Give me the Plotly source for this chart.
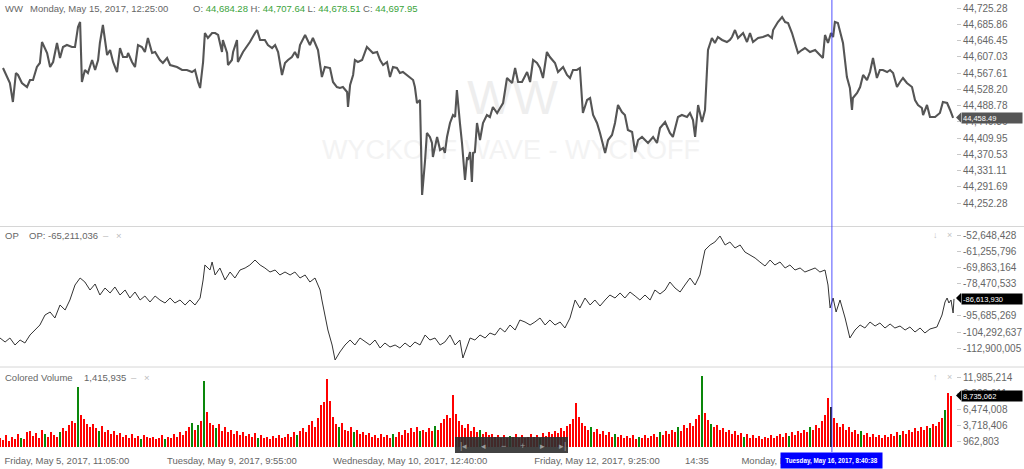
import plotly.graph_objects as go

FONT = "Arial, 'Liberation Sans', Helvetica, sans-serif"
W, H = 1024, 469
PLOT_W, PLOT_H = 956, 447          # plotting area in px (right axis outside)
PX_PER_BAR = 3.0

# ---------------- data ----------------
# price line (bar time index, price)
price_t = [
    1.0, 2.3, 3.3, 4.3, 5.3, 6.0, 7.3, 9.0, 10.0, 11.0,
    12.3, 13.3, 14.0, 15.7, 16.7, 17.7, 19.0, 20.0, 21.0, 22.3,
    24.0, 25.0, 26.0, 26.7, 27.3, 28.3, 29.3, 30.7, 31.7, 32.7,
    33.3, 34.3, 35.7, 36.7, 37.7, 39.0, 40.0, 41.0, 42.3, 42.7,
    44.0, 45.0, 46.0, 47.3, 48.3, 49.3, 50.7, 51.7, 53.3, 54.3,
    55.7, 56.7, 59.0, 60.7, 62.3, 64.0, 65.0, 66.0, 66.7, 67.7,
    68.3, 69.3, 70.7, 71.7, 72.7, 74.0, 74.3, 75.7, 76.0, 77.3,
    77.7, 79.0, 79.3, 81.0, 82.3, 83.3, 85.0, 85.7, 86.7, 88.3,
    89.3, 90.7, 91.7, 92.7, 94.0, 95.0, 96.0, 97.3, 98.3, 99.3,
    100.0, 101.7, 103.3, 104.3, 106.0, 107.3, 108.3, 110.0, 111.0, 112.3,
    113.3, 114.3, 115.7, 116.0, 116.7, 117.7, 118.3, 119.3, 120.7, 121.7,
    122.3, 123.3, 124.3, 125.7, 126.7, 127.7, 129.0, 130.0, 131.0, 132.3,
    133.3, 134.3, 135.7, 136.7, 137.7, 138.3, 139.0, 140.0, 140.7, 141.7,
    142.3, 143.3, 144.0, 144.3, 145.7, 146.7, 147.7, 148.3, 149.0, 150.0,
    151.0, 151.7, 152.3, 153.3, 154.0, 155.0, 155.7, 156.0, 156.7, 157.3,
    157.7, 158.3, 159.0, 160.0, 161.0, 162.3, 163.3, 164.3, 165.7, 166.7,
    167.7, 169.0, 170.7, 171.7, 172.7, 174.0, 175.7, 176.7, 177.7, 179.0,
    180.0, 181.0, 182.3, 183.3, 185.0, 186.0, 187.7, 189.0, 190.0, 191.0,
    192.3, 193.3, 194.0, 194.3, 195.7, 196.7, 197.7, 199.0, 200.0, 201.0,
    201.7, 202.7, 204.0, 205.0, 206.0, 207.3, 208.3, 209.3, 210.7, 211.7,
    212.7, 214.0, 215.0, 216.0, 217.7, 219.0, 220.0, 221.7, 223.3, 224.3,
    226.0, 227.3, 229.0, 230.0, 231.0, 231.7, 232.7, 234.0, 235.0, 235.7,
    236.0, 237.3, 238.3, 239.3, 240.7, 242.3, 243.3, 244.0, 245.0, 246.0,
    247.7, 249.0, 250.0, 251.0, 252.7, 254.3, 256.0, 257.3, 257.7, 259.3,
    260.7, 261.7, 262.7, 264.0, 265.0, 266.0, 267.3, 268.3, 270.0, 271.7,
    273.3, 274.3, 275.0, 276.0, 277.0, 277.7, 278.3, 279.3, 281.0, 282.3,
    283.3, 284.0, 284.3, 285.7, 286.7, 287.7, 289.0, 290.0, 291.0, 292.3,
    293.3, 294.3, 295.7, 296.7, 297.7, 299.0, 300.0, 301.0, 302.3, 304.0,
    305.0, 306.0, 307.3, 307.7, 309.0, 310.0, 311.7, 313.3, 314.3, 315.7,
    316.7, 317.7,
]
price = [
    44579.7, 44557.9, 44543.4, 44497.3, 44567.6, 44562.8, 44543.4, 44533.6, 44550.6, 44550.6,
    44582.2, 44591.9, 44642.8, 44616.1, 44582.2, 44594.3, 44640.4, 44604.0, 44630.7, 44635.5,
    44630.7, 44630.7, 44679.2, 44691.3, 44545.8, 44574.9, 44567.6, 44599.1, 44574.9, 44599.1,
    44640.4, 44684.0, 44611.3, 44623.4, 44594.3, 44570.0, 44628.2, 44606.4, 44606.4, 44616.1,
    44594.3, 44582.2, 44635.5, 44630.7, 44618.5, 44652.5, 44616.1, 44618.5, 44599.1, 44591.9,
    44604.0, 44587.0, 44582.2, 44574.9, 44574.9, 44570.0, 44574.9, 44545.8, 44531.2, 44594.3,
    44664.6, 44652.5, 44664.6, 44664.6, 44659.8, 44618.5, 44647.7, 44616.1, 44587.0, 44599.1,
    44618.5, 44647.7, 44594.3, 44618.5, 44630.7, 44642.8, 44664.6, 44671.9, 44647.7, 44647.7,
    44635.5, 44628.2, 44635.5, 44618.5, 44562.8, 44591.9, 44599.1, 44606.4, 44618.5, 44604.0,
    44635.5, 44659.8, 44635.5, 44652.5, 44623.4, 44557.9, 44582.2, 44579.7, 44545.8, 44533.6,
    44531.2, 44533.6, 44521.5, 44485.1, 44538.5, 44562.8, 44599.1, 44594.3, 44599.1, 44616.1,
    44630.7, 44623.4, 44616.1, 44618.5, 44599.1, 44587.0, 44594.3, 44557.9, 44582.2, 44579.7,
    44567.6, 44570.0, 44562.8, 44557.9, 44550.6, 44533.6, 44494.8, 44502.1, 44271.7, 44356.6,
    44422.1, 44412.4, 44397.8, 44363.9, 44412.4, 44380.9, 44385.7, 44373.6, 44412.4, 44446.4,
    44465.7, 44460.9, 44526.4, 44446.4, 44397.8, 44308.1, 44363.9, 44356.6, 44376.0, 44303.2,
    44373.6, 44376.0, 44446.4, 44405.1, 44446.4, 44465.7, 44460.9, 44485.1, 44470.6, 44482.7,
    44494.8, 44555.5, 44543.4, 44579.7, 44545.8, 44545.8, 44570.0, 44545.8, 44599.1, 44591.9,
    44579.7, 44555.5, 44618.5, 44606.4, 44591.9, 44570.0, 44582.2, 44562.8, 44555.5, 44574.9,
    44574.9, 44579.7, 44502.1, 44470.6, 44502.1, 44507.0, 44465.7, 44446.4, 44422.1, 44393.0,
    44373.6, 44405.1, 44417.2, 44446.4, 44490.0, 44473.0, 44465.7, 44429.4, 44424.5, 44376.0,
    44405.1, 44412.4, 44405.1, 44397.8, 44412.4, 44397.8, 44434.2, 44448.8, 44422.1, 44412.4,
    44460.9, 44465.7, 44460.9, 44470.6, 44453.6, 44412.4, 44490.0, 44448.8, 44477.9, 44579.7,
    44623.4, 44652.5, 44640.4, 44654.9, 44647.7, 44642.8, 44647.7, 44654.9, 44671.9, 44652.5,
    44664.6, 44642.8, 44664.6, 44642.8, 44652.5, 44654.9, 44659.8, 44652.5, 44671.9, 44691.3,
    44703.4, 44691.3, 44688.9, 44664.6, 44642.8, 44616.1, 44623.4, 44628.2, 44618.5, 44623.4,
    44611.3, 44604.0, 44659.8, 44640.4, 44664.6, 44654.9, 44691.3, 44688.9, 44640.4, 44557.9,
    44531.2, 44477.9, 44507.0, 44519.1, 44533.6, 44562.8, 44550.6, 44570.0, 44604.0, 44555.5,
    44574.9, 44574.9, 44570.0, 44574.9, 44567.6, 44533.6, 44545.8, 44555.5, 44543.4, 44533.6,
    44502.1, 44490.0, 44482.7, 44465.7, 44490.0, 44460.9, 44460.9, 44470.6, 44497.3, 44494.8,
    44477.9, 44458.5,
]

# OP indicator (bar time index, value in millions)
op_t = [
    0.0, 1.7, 3.3, 5.0, 6.7, 8.3, 10.0, 11.7, 13.3, 15.0,
    16.7, 18.3, 20.0, 21.7, 23.3, 25.0, 26.7, 28.3, 30.0, 31.7,
    33.3, 35.0, 36.7, 38.3, 40.0, 41.7, 43.3, 45.0, 46.7, 48.3,
    50.0, 51.7, 53.3, 55.0, 56.7, 58.3, 60.0, 61.7, 63.3, 65.0,
    66.7, 67.7, 68.3, 70.0, 70.7, 71.7, 73.3, 75.0, 76.7, 78.3,
    80.0, 81.7, 83.3, 85.0, 86.7, 88.3, 90.0, 91.7, 93.3, 95.0,
    96.7, 98.3, 100.0, 101.7, 103.3, 105.0, 106.7, 107.3, 108.3, 109.3,
    110.7, 111.7, 113.3, 115.0, 116.7, 118.3, 120.0, 121.7, 123.3, 125.0,
    126.7, 128.3, 130.0, 131.7, 133.3, 135.0, 136.7, 138.3, 140.0, 141.7,
    143.3, 145.0, 146.7, 148.3, 150.0, 151.7, 153.3, 154.3, 155.7, 156.7,
    158.3, 160.0, 161.7, 163.3, 165.0, 166.7, 168.3, 170.0, 171.7, 173.3,
    175.0, 176.7, 178.3, 180.0, 181.7, 183.3, 185.0, 186.7, 188.3, 190.0,
    191.7, 193.3, 195.0, 196.7, 198.3, 200.0, 201.7, 203.3, 205.0, 206.7,
    208.3, 210.0, 211.7, 213.3, 215.0, 216.7, 218.3, 220.0, 221.7, 223.3,
    225.0, 226.7, 228.3, 230.0, 231.7, 233.3, 234.3, 235.0, 236.7, 238.3,
    240.0, 241.7, 243.3, 245.0, 246.7, 248.3, 250.0, 251.7, 253.3, 255.0,
    256.7, 258.3, 260.0, 261.7, 263.3, 265.0, 266.7, 268.3, 270.0, 271.7,
    273.3, 275.0, 276.0, 276.7, 277.7, 278.7, 280.0, 281.7, 283.3, 285.0,
    286.7, 288.3, 290.0, 291.7, 293.3, 295.0, 296.7, 298.3, 300.0, 301.7,
    303.3, 305.0, 306.7, 308.3, 310.0, 312.3, 314.0, 315.0, 315.7, 316.3,
    317.0, 317.7, 318.0,
]
op_m = [
    -107.41, -109.54, -107.41, -111.13, -108.47, -110.07, -105.81, -103.16, -100.50, -95.18,
    -93.59, -96.78, -89.86, -92.52, -87.20, -79.23, -75.51, -77.64, -81.89, -78.70,
    -84.55, -80.83, -83.48, -80.29, -84.55, -81.89, -86.14, -82.95, -87.20, -85.08,
    -88.27, -85.08, -87.20, -88.80, -86.14, -88.80, -87.20, -89.86, -87.20, -89.86,
    -86.14, -76.57, -68.60, -71.26, -67.00, -73.91, -70.19, -76.57, -72.32, -75.51,
    -71.26, -70.19, -68.60, -65.94, -68.60, -70.19, -72.32, -71.26, -73.91, -72.32,
    -73.91, -72.32, -75.51, -73.91, -77.64, -75.51, -81.89, -87.20, -95.18, -103.16,
    -111.13, -119.11, -114.85, -111.13, -108.47, -111.13, -107.41, -109.54, -111.13, -108.47,
    -112.73, -110.07, -112.19, -111.13, -112.73, -110.07, -112.19, -109.54, -111.13, -105.81,
    -108.47, -107.41, -111.13, -109.54, -105.81, -111.13, -108.47, -118.04, -111.13, -107.41,
    -108.47, -105.81, -107.41, -104.75, -105.81, -102.09, -104.22, -100.50, -103.16, -97.84,
    -98.90, -100.50, -98.90, -96.78, -100.50, -97.84, -100.50, -98.90, -102.09, -96.78,
    -87.20, -91.46, -86.14, -89.86, -87.20, -90.40, -87.20, -84.55, -86.14, -83.48,
    -86.14, -82.95, -85.08, -87.20, -84.55, -87.20, -81.89, -84.02, -81.89, -77.64,
    -80.83, -82.95, -79.23, -75.51, -79.23, -73.91, -65.94, -60.62, -57.96, -56.37,
    -53.18, -57.96, -56.37, -59.56, -57.96, -61.69, -63.28, -64.88, -67.00, -69.13,
    -65.94, -68.60, -67.00, -70.19, -68.60, -71.26, -70.19, -72.32, -71.26, -70.19,
    -72.32, -71.26, -79.23, -91.46, -86.14, -93.59, -87.20, -96.78, -107.41, -103.16,
    -100.50, -102.09, -98.90, -101.03, -99.44, -102.09, -99.97, -102.09, -101.03, -103.16,
    -101.56, -104.22, -102.09, -104.75, -102.62, -101.56, -95.18, -88.27, -86.14, -88.80,
    -87.20, -94.12, -86.61,
]

# Colored volume, one value per bar (millions)
vol_m = (
    [1.5, 1.2, 2.0, 1.0, 1.8, 1.4, 2.2, 1.6, 1.3, 2.5]
    + [2.8, 1.9, 2.4, 1.5, 3.0, 2.2, 1.7, 2.6, 2.0, 1.8]
    + [2.5, 3.2, 2.8, 3.8, 4.5]
    + [4.2, 10.3, 5.5, 4.8, 3.9]
    + [3.5, 4.0, 3.2, 2.8, 3.6, 2.5, 3.0, 2.2, 2.7, 2.0]
    + [2.4, 1.8, 2.1, 1.6, 2.3, 1.5, 1.9, 1.4, 2.0, 1.7]
    + [1.5, 1.8, 1.3, 1.6, 2.0, 1.4, 1.7, 1.5, 2.2, 1.8]
    + [2.5, 2.0, 2.8, 3.5, 4.2, 3.0, 3.8]
    + [4.5, 11.4, 6.0, 4.2]
    + [3.8, 3.2, 4.0, 2.8, 3.5, 2.6, 3.0, 2.3, 2.8, 2.0]
    + [2.5, 1.9, 2.2, 1.7, 2.4, 1.6, 2.0, 1.5, 1.8, 1.4]
    + [1.9, 1.6, 2.1, 1.5, 1.8, 2.2, 1.7, 2.5, 2.0, 2.8]
    + [3.2, 2.6, 3.8, 4.5, 3.5, 5.0]
    + [7.2, 7.8, 11.7, 8.0, 5.2]
    + [4.0, 3.5, 4.2, 3.0, 2.8, 3.4, 2.5, 2.9, 2.2, 2.6]
    + [2.0, 2.4, 1.8, 2.1, 1.6, 2.3, 1.7, 2.0, 1.5, 2.2]
    + [1.8, 2.5, 2.0, 3.0, 2.4, 3.2, 2.6, 3.5, 2.8, 3.0]
    + [2.5, 3.2, 2.7, 3.6, 3.0, 4.2, 4.8]
    + [5.5, 5.0, 9.0, 5.6, 4.5]
    + [3.8, 3.2, 4.0, 2.8, 3.4, 2.5, 3.0, 2.2, 2.6, 2.0]
    + [2.3, 1.8, 2.1, 1.6, 2.0, 1.5, 1.9, 1.7, 2.2, 1.6]
    + [2.0, 1.5, 1.8, 2.3, 1.7, 2.1, 1.6, 2.4, 1.9, 2.6]
    + [2.2, 2.8, 2.4, 3.2, 2.7, 3.6, 4.0]
    + [4.8, 7.5, 5.2, 4.2]
    + [3.6, 3.0, 3.4, 2.6, 3.1, 2.3, 2.8, 2.0, 2.5, 1.8]
    + [2.2, 1.7, 2.0, 1.5, 1.9, 1.6, 2.1, 1.4, 1.8, 1.5]
    + [2.0, 1.6, 1.9, 2.3, 1.7, 2.5, 2.0, 2.8, 2.3, 3.0]
    + [2.6, 3.4, 2.8, 3.8, 3.2, 4.2, 3.6, 4.8]
    + [5.5, 12.2, 5.8, 4.6]
    + [4.0, 3.4, 3.8, 2.9, 3.3, 2.6, 3.0, 2.2, 2.7, 2.0]
    + [2.4, 1.8, 2.2, 1.6, 2.0, 1.5, 1.9, 1.4, 1.8, 1.6]
    + [2.1, 1.5, 1.9, 2.2, 1.7, 2.4, 1.9, 2.6, 2.1, 2.8]
    + [2.4, 3.0, 2.6, 3.4, 3.0, 3.8, 3.3, 4.5]
    + [5.5, 8.4, 6.9, 5.0]
    + [4.2, 3.5, 3.9, 3.0, 3.4, 2.6, 3.0, 2.3, 2.7, 2.0]
    + [2.4, 1.8, 2.2, 1.7, 2.0, 1.6, 2.1, 1.8, 2.3, 1.9]
    + [2.5, 2.0, 2.7, 2.2, 3.0, 2.5, 3.2, 2.8, 3.5, 3.0]
    + [3.7, 3.3, 4.0, 3.6, 4.3, 5.0, 6.4, 9.3, 8.7]
)
# bars that closed up (drawn green); all others red
vol_up_bars = [7, 15, 20, 26, 33, 47, 55, 64, 66, 68, 72, 86, 99, 113, 118, 131,
               140, 145, 160, 170, 180, 197, 205, 213, 220, 226, 234, 237, 248,
               263, 270, 287, 300, 310, 315]
hover_bar = 277            # bar under the crosshair
hover_t = 277.3            # crosshair time (bar index)

last_price = 44458.49
last_op = -86613930
last_vol = 8735062

price_ticks = [44725.28, 44685.86, 44646.45, 44607.03, 44567.61, 44528.20, 44488.78,
               44449.36, 44409.95, 44370.53, 44331.11, 44291.69, 44252.28]
op_ticks = [-52648428, -61255796, -69863164, -78470533, -87077901, -95685269,
            -104292637, -112900005]
vol_ticks = [11985214, 9229611, 6474008, 3718406, 962803]

x_tick_t = [22.3, 77.3, 136.7, 199.0, 232.3, 269.3]
x_tick_text = ["Friday, May 5, 2017, 11:05:00", "Tuesday, May 9, 2017, 9:55:00",
               "Wednesday, May 10, 2017, 12:40:00", "Friday, May 12, 2017, 9:25:00",
               "14:35", "Monday, May 15, 2017, 9:45:00"]

# ---------------- figure ----------------
def PX(x):
    return x / PLOT_W


def PY(y):
    return 1 - y / PLOT_H


def fmt2(v):
    return f"{v:,.2f}"


def fmt0(v):
    return f"{v:,.0f}"


fig = go.Figure()
fig.add_trace(go.Scatter(x=price_t, y=price, mode="lines",
                         line=dict(color="#555555", width=2.1),
                         xaxis="x", yaxis="y", hoverinfo="skip"))
fig.add_trace(go.Scatter(x=op_t, y=[v * 1e6 for v in op_m], mode="lines",
                         line=dict(color="#333333", width=1),
                         xaxis="x2", yaxis="y2", hoverinfo="skip"))
vol_t = list(range(len(vol_m)))
vol_colors = []
for i in vol_t:
    if i == hover_bar:
        vol_colors.append("#2b2b2b")
    elif i in vol_up_bars:
        vol_colors.append("#0a870a")
    else:
        vol_colors.append("#ff0000")
fig.add_trace(go.Bar(x=vol_t, y=[v * 1e6 for v in vol_m], width=0.9,
                     marker=dict(color=vol_colors, line=dict(width=0)),
                     xaxis="x3", yaxis="y3", hoverinfo="skip"))

xr = [0, PLOT_W / PX_PER_BAR]
xbase = dict(range=xr, domain=[0, 1], showgrid=False, zeroline=False,
             showline=False, ticks="", showticklabels=False, fixedrange=True)
tickfont = dict(family=FONT, size=10, color="#666666")
ybase = dict(side="right", showgrid=False, zeroline=False, showline=False,
             ticks="outside", ticklen=4, tickcolor="#c8c8c8", tickwidth=1,
             tickfont=tickfont, fixedrange=True)

top_dom = [PY(225), 1.0]
mid_dom = [PY(366), PY(227)]
bot_dom = [0.0, PY(368)]

fig.update_layout(
    width=W, height=H,
    margin=dict(l=0, r=W - PLOT_W, t=0, b=H - PLOT_H),
    paper_bgcolor="white", plot_bgcolor="white",
    showlegend=False, bargap=0,
    font=dict(family=FONT, color="#666666"),
    xaxis=dict(xbase, anchor="y"),
    xaxis2=dict(xbase, anchor="y2"),
    xaxis3=dict(xbase, anchor="y3", showticklabels=True,
                tickvals=x_tick_t, ticktext=x_tick_text,
                tickfont=dict(family=FONT, size=9.5, color="#666666"),
                ticklabelstandoff=6),
    yaxis=dict(ybase, anchor="x", domain=top_dom, range=[44198.92, 44744.68],
               tickvals=price_ticks, ticktext=[fmt2(v) for v in price_ticks]),
    yaxis2=dict(ybase, anchor="x2", domain=mid_dom, range=[-122.295e6, -48.395e6],
                tickvals=op_ticks, ticktext=[fmt0(v) for v in op_ticks]),
    yaxis3=dict(ybase, anchor="x3", domain=bot_dom, range=[0, 13.606e6],
                tickvals=vol_ticks, ticktext=[fmt0(v) for v in vol_ticks]),
)

shapes = []
shapes.append(dict(type="rect", xref="paper", yref="paper", layer="below",
                   x0=PX(430), x1=PX(595), y0=PY(118), y1=PY(66),
                   line=dict(width=0), fillcolor="rgba(0,0,0,0)",
                   label=dict(text="WW", textposition="middle center",
                              font=dict(family=FONT, size=48, color="#eeeeee"))))
shapes.append(dict(type="rect", xref="paper", yref="paper", layer="below",
                   x0=PX(300), x1=PX(722), y0=PY(162), y1=PY(132),
                   line=dict(width=0), fillcolor="rgba(0,0,0,0)",
                   label=dict(text="WYCKOFF WAVE - WYCKOFF", textposition="middle center",
                              font=dict(family=FONT, size=27, color="#f3f3f3"))))
for yy in (226.5, 367.0):
    shapes.append(dict(type="line", xref="paper", yref="paper",
                       x0=0, x1=W / PLOT_W, y0=PY(yy), y1=PY(yy),
                       line=dict(color="#d6d6d6", width=1)))
shapes.append(dict(type="line", xref="x", yref="paper", x0=hover_t, x1=hover_t,
                   y0=PY(452), y1=1, line=dict(color="rgba(50,50,255,0.85)", width=1)))
shapes.append(dict(type="rect", xref="paper", yref="paper",
                   x0=PX(455), x1=PX(568), y0=PY(453), y1=PY(437),
                   line=dict(width=0), fillcolor="rgba(45,45,45,0.9)"))
for cy, col in ((117.5, "#555555"), (298.0, "#000000"), (395.5, "#000000")):
    shapes.append(dict(type="path", xref="paper", yref="paper",
                       path=f"M {PX(956)},{PY(cy)} L {PX(961)},{PY(cy - 5)} L {PX(961)},{PY(cy + 5)} Z",
                       line=dict(width=0), fillcolor=col))

ann = []


def txt(s, x, y, color="#666666", size=9.5, anchor="left"):
    ann.append(dict(text=s, x=PX(x), y=PY(y), xref="paper", yref="paper",
                    xanchor=anchor, yanchor="middle", showarrow=False,
                    font=dict(family=FONT, size=size, color=color)))


G = "#3aa33a"
txt("WW", 3, 8.5)
txt("Monday, May 15, 2017, 12:25:00", 28, 8.5)
txt(f"O: <span style='color:{G}'>44,684.28</span> H: <span style='color:{G}'>44,707.64</span> "
    f"L: <span style='color:{G}'>44,678.51</span> C: <span style='color:{G}'>44,697.95</span>", 191, 8.5)
txt("OP", 3, 235)
txt("OP: -65,211,036", 27, 235)
txt("–", 101, 235, color="#bbbbbb")
txt("×", 114, 235, color="#bbbbbb")
txt("Colored Volume", 3, 377)
txt("1,415,935", 82, 377)
txt("–", 129, 377, color="#bbbbbb")
txt("×", 142, 377, color="#bbbbbb")
txt("↓", 931, 235, color="#c4c4c4", size=9)
txt("×", 945, 235, color="#c4c4c4", size=9)
txt("↑", 931, 377, color="#c4c4c4", size=9)
txt("×", 945, 377, color="#c4c4c4", size=9)

for s, xx in (("|◂", 463), ("◂", 483), ("−", 503), ("+", 522), ("▸", 542), ("▸|", 562)):
    txt(s, xx, 445.5, color="#9a9a9a", size=9, anchor="center")

for val, yref, txt_s, col in ((last_price, "y", fmt2(last_price), "#555555"),
                              (last_op, "y2", fmt0(last_op), "#000000"),
                              (last_vol, "y3", fmt0(last_vol), "#000000")):
    ann.append(dict(text=txt_s, x=PX(961), y=val, xref="paper", yref=yref,
                    xanchor="left", yanchor="middle", showarrow=False,
                    bgcolor=col, width=58, height=8, borderpad=1, align="left",
                    font=dict(family=FONT, size=7.5, color="white")))

ann.append(dict(text="<b>Tuesday, May 16, 2017, 8:40:38</b>", x=PX(831), y=PY(460),
                xref="paper", yref="paper", xanchor="center", yanchor="middle",
                showarrow=False, bgcolor="#0000ff", width=97, height=11, borderpad=2,
                font=dict(family=FONT, size=6.3, color="white")))

fig.update_layout(shapes=shapes, annotations=ann)
fig.write_html("out.html", config={"displayModeBar": False, "staticPlot": True},
               post_script="document.body.style.margin='0';document.body.style.overflow='hidden';")
